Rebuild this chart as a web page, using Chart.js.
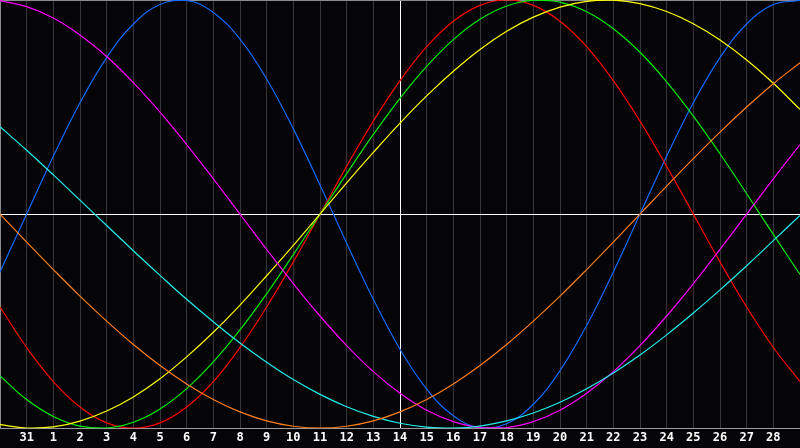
<!DOCTYPE html>
<html>
<head>
<meta charset="utf-8">
<script src="https://cdn.jsdelivr.net/npm/chart.js@4/dist/chart.umd.min.js"></script>
<style>
  html, body { margin: 0; padding: 0; background: #050407; }
  #wrap { width: 800px; height: 448px; position: relative; }
</style>
</head>
<body>
<div id="wrap"><canvas id="chart"></canvas></div>
<script>
// days shown on the axis (first and last sit on the frame and are not labelled)
const dayLabels = ['30','31','1','2','3','4','5','6','7','8','9','10','11','12','13','14',
  '15','16','17','18','19','20','21','22','23','24','25','26','27','28','29'];

const redVals = [-0.434,-0.623,-0.782,-0.901,-0.975,-1.0,-0.975,-0.901,-0.782,-0.623,-0.434,-0.223,
  0,0.223,0.434,0.623,0.782,0.901,0.975,1.0,0.975,0.901,0.782,0.623,0.434,0.223,0,-0.223,-0.434,-0.623,-0.782];
const greenVals = [-0.756,-0.866,-0.945,-0.990,-0.999,-0.972,-0.910,-0.815,-0.690,-0.541,-0.372,-0.189,
  0,0.189,0.372,0.541,0.690,0.815,0.910,0.972,0.999,0.990,0.945,0.866,0.756,0.618,0.458,0.282,0.095,-0.095,-0.282];
const yellowVals = [-0.983,-0.999,-0.994,-0.967,-0.920,-0.854,-0.769,-0.667,-0.552,-0.425,-0.288,-0.146,
  0,0.146,0.288,0.425,0.552,0.667,0.769,0.854,0.920,0.967,0.994,0.999,0.983,0.946,0.889,0.813,0.720,0.611,0.489];
const blueVals = [-0.270,0,0.270,0.520,0.731,0.888,0.979,0.998,0.942,0.817,0.631,0.398,0.136,-0.136,-0.398,
  -0.631,-0.817,-0.942,-0.998,-0.979,-0.888,-0.731,-0.520,-0.270,0,0.270,0.520,0.731,0.888,0.979,0.998];
const magentaVals = [0.997,0.969,0.916,0.837,0.736,0.614,0.476,0.325,0.165,0,-0.165,-0.325,-0.476,-0.614,
  -0.736,-0.837,-0.916,-0.969,-0.997,-0.997,-0.969,-0.916,-0.837,-0.736,-0.614,-0.476,-0.325,-0.165,0,0.165,0.325];
const cyanVals = [0.408,0.298,0.183,0.065,-0.053,-0.171,-0.286,-0.398,-0.503,-0.602,-0.692,-0.773,-0.842,
  -0.900,-0.945,-0.977,-0.995,-1.0,-0.990,-0.966,-0.929,-0.879,-0.816,-0.742,-0.658,-0.564,-0.462,-0.354,-0.241,-0.124,-0.006];
const orangeVals = [0,-0.131,-0.259,-0.383,-0.500,-0.609,-0.707,-0.793,-0.866,-0.924,-0.966,-0.991,-1.0,
  -0.991,-0.966,-0.924,-0.866,-0.793,-0.707,-0.609,-0.500,-0.383,-0.259,-0.131,0,0.131,0.259,0.383,0.500,0.609,0.707];

const todayIndex = 15;

function line(data, color) {
  return {
    data: data,
    borderColor: color,
    borderWidth: 1.2,
    pointRadius: 0,
    tension: 0.4,
    fill: false
  };
}

const bg = {
  id: 'bg',
  beforeDraw(chart) {
    const c = chart.ctx;
    c.save();
    c.fillStyle = '#050407';
    c.fillRect(0, 0, chart.width, chart.height);
    c.restore();
  }
};

new Chart(document.getElementById('chart'), {
  type: 'line',
  data: {
    labels: dayLabels,
    datasets: [
      line(orangeVals, '#ff7f1e'),
      line(cyanVals, '#22eeee'),
      line(magentaVals, '#ff00ff'),
      line(yellowVals, '#ffff00'),
      line(greenVals, '#00ee00'),
      line(redVals, '#ff0000'),
      line(blueVals, '#1469ff')
    ]
  },
  plugins: [bg],
  options: {
    responsive: true,
    maintainAspectRatio: false,
    animation: false,
    layout: { padding: 0 },
    plugins: { legend: { display: false }, tooltip: { enabled: false } },
    scales: {
      x: {
        offset: false,
        grid: {
          drawTicks: false,
          lineWidth: 1,
          color: (ctx) => {
            if (ctx.index === todayIndex) return '#ffffff';
            if (ctx.index === 0 || ctx.index === dayLabels.length - 1) return '#8a8a8a';
            return '#37363a';
          }
        },
        border: { display: true, color: '#9a9a9a', width: 1 },
        ticks: {
          autoSkip: false,
          maxRotation: 0,
          padding: 0,
          color: '#ffffff',
          font: { family: 'DejaVu Sans Mono', size: 12, weight: 'bold', lineHeight: 1.65 },
          callback: (v, i) => (i === 0 || i === dayLabels.length - 1) ? '' : dayLabels[i]
        }
      },
      y: {
        min: -1,
        max: 1,
        afterFit: (s) => { s.width = 0; },
        ticks: { display: false, stepSize: 1 },
        border: { display: false },
        grid: {
          drawTicks: false,
          color: (ctx) => {
            if (ctx.tick.value === 0) return '#ffffff';
            if (ctx.tick.value === 1) return '#8a8a8a';
            return 'rgba(0,0,0,0)';
          }
        }
      }
    }
  }
});
</script>
</body>
</html>
